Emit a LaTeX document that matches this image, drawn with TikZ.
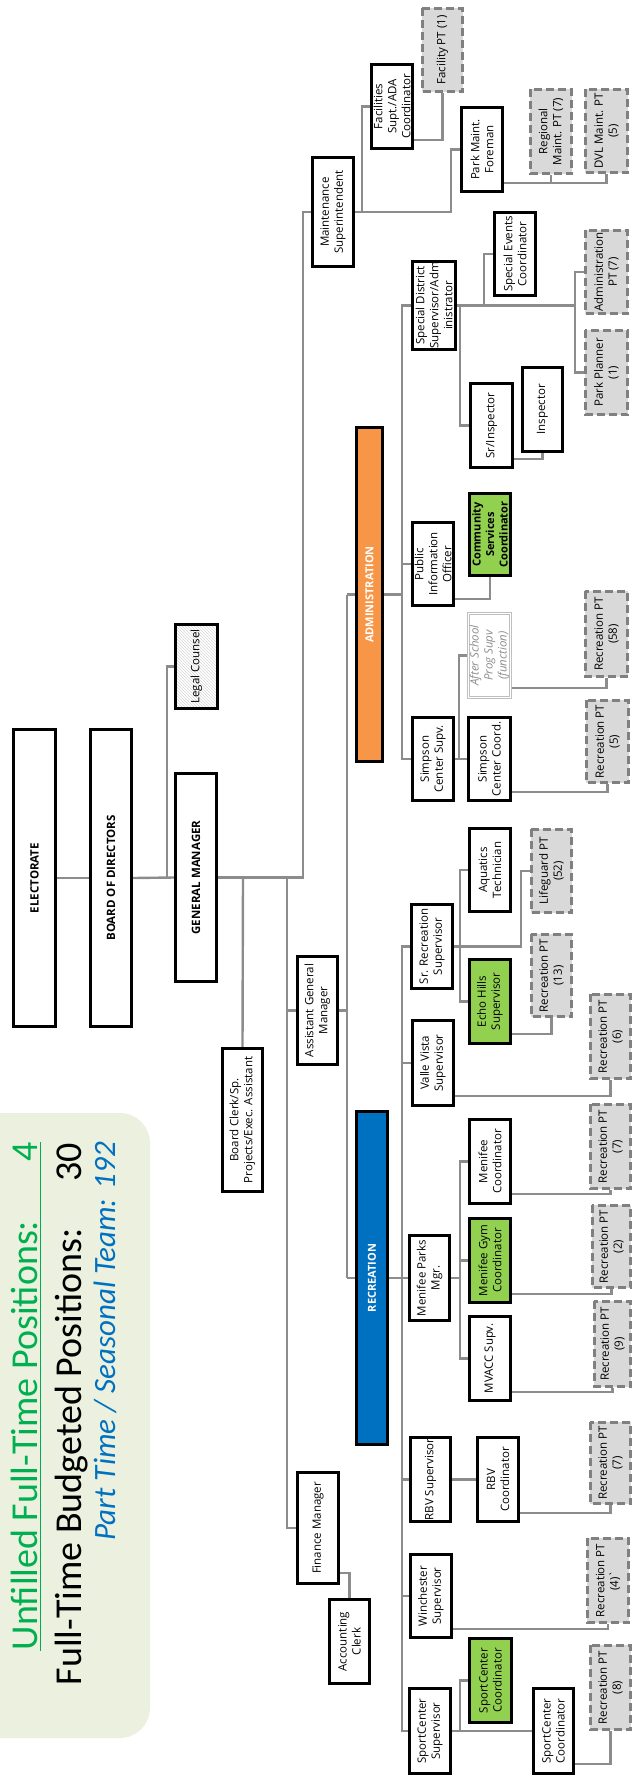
\documentclass[tikz,border=0pt]{standalone}
\usepackage{fontspec}
\setmainfont{Open Sans}
\newfontfamily\calfont{Carlito}
\usetikzlibrary{calc,patterns}
\pgfdeclarelayer{bg}
\pgfsetlayers{bg,main}
\definecolor{lnk}{RGB}{140,140,140}
\definecolor{ptfill}{RGB}{217,217,217}
\definecolor{ptdraw}{RGB}{128,128,128}
\definecolor{grnfill}{RGB}{146,208,80}
\definecolor{orng}{RGB}{247,150,70}
\definecolor{blu}{RGB}{0,112,192}
\definecolor{bggreen}{RGB}{235,241,222}
\definecolor{txtgreen}{RGB}{0,176,80}
\newcommand{\bx}[7]{\node[#6, minimum width={(#5-#3-2.5)*1pt}, minimum height={(#4-#2-2.5)*1pt}] (#1) at ({(#2+#4)/2},{(#3+#5)/2}) {#7};}
\newcommand{\rconn}[3]{\draw[conn] ($(#1.south west)+(0,-#3)$) -| (#2.west);}
\begin{document}
\begin{tikzpicture}[x=1pt,y=-1pt,
  box/.style={draw=black, line width=2.6pt, fill=white, rotate=90, inner sep=0.5pt, align=center, font=\fontsize{11.5}{14}\selectfont},
  bbox/.style={box, font=\bfseries\fontsize{11.5}{14}\selectfont},
  ptbox/.style={box, draw=ptdraw, fill=ptfill, dash pattern=on 8pt off 4pt},
  grn/.style={box, fill=grnfill},
  bar/.style={box, text=white, font=\bfseries\fontsize{11}{13}\selectfont},
  hatchbox/.style={box, pattern=north west lines, pattern color=black!16},
  ghost/.style={box, draw=black!25, line width=0.8pt, double=white, double distance=1.4pt, text=black!45, font=\itshape\fontsize{11.5}{14}\selectfont},
  conn/.style={draw=lnk, line width=2.4pt}]
\useasboundingbox (0,0) rectangle (633,1785);
\clip (0,0) rectangle (633,1785);

% legend box
\fill[bggreen, rounded corners=30pt] (-40,1113) rectangle (150,1738);
\node[rotate=90, anchor=base east, inner sep=0, text=txtgreen, font=\calfont\fontsize{38}{40}\selectfont] (l1) at (37,1142) {\makebox[508pt][s]{Unfilled Full-Time Positions:\hfill 4}};
\draw[txtgreen, line width=1.2pt] (40.5,1651) -- (40.5,1142);
\node[rotate=90, anchor=base east, inner sep=0, text=black, font=\calfont\fontsize{38}{40}\selectfont] (l2) at (81,1143) {\makebox[542pt][s]{Full-Time Budgeted Positions:\hfill 30}};
\node[rotate=90, anchor=base east, inner sep=0, text=blu, font=\calfont\itshape\fontsize{31}{33}\selectfont] (l3) at (115,1142) {Part Time / Seasonal Team: 192};

% top
\bx{ele}{12}{728}{57}{1028}{bbox}{ELECTORATE}
\bx{bod}{89}{728}{133}{1028}{bbox}{BOARD OF DIRECTORS}
\bx{gm}{174}{772}{218}{983}{bbox}{GENERAL MANAGER}
\bx{legal}{174}{623}{219}{710}{hatchbox}{Legal Counsel}
\bx{bc}{221}{1047}{264}{1193}{box}{Board Clerk/Sp.\\Projects/Exec. Assistant}
\bx{agm}{296}{955}{339}{1066}{box}{Assistant General\\Manager}
\bx{fm}{296}{1471}{340}{1585}{box}{Finance Manager}
\bx{ac}{328}{1598}{371}{1685}{box}{Accounting\\Clerk}

% maintenance
\bx{ms}{311}{156}{355}{268}{box}{Maintenance\\Superintendent}
\bx{fac}{370}{63}{414}{150}{box}{Facilities\\Supt./ADA\\Coordinator}
\bx{facpt}{421}{7}{464}{93}{ptbox}{Facility PT (1)}
\bx{pmf}{460}{106}{504}{193}{box}{Park Maint.\\Foreman}
\bx{regpt}{529}{88}{573}{175}{ptbox}{Regional\\Maint. PT (7)}
\bx{dvlpt}{584}{88}{629}{174}{ptbox}{DVL Maint. PT\\(5)}

% administration
\bx{admbar}{355}{426}{384}{763}{bar, fill=orng}{ADMINISTRATION}
\bx{sd}{411}{262}{457}{349}{box}{Special District\\Supervisor/Adm\\inistrator}
\bx{sec}{493}{211}{537}{297}{box}{Special Events\\Coordinator}
\bx{admpt}{584}{229}{629}{315}{ptbox}{Administration\\PT (7)}
\bx{ppl}{584}{329}{629}{416}{ptbox}{Park Planner\\(1)}
\bx{sri}{469}{382}{514}{469}{box}{Sr/Inspector}
\bx{insp}{521}{366}{564}{453}{box}{Inspector}
\bx{pio}{411}{521}{455}{607}{box}{Public\\Information\\Officer}
\bx{csc}{468}{492}{512}{577}{grn, font=\bfseries\fontsize{11}{13.5}\selectfont}{Community\\Services\\Coordinator}
\bx{scs}{411}{716}{455}{802}{box}{Simpson\\Center Supv.}
\bx{scc}{467}{716}{512}{802}{box}{Simpson\\Center Coord.}
\bx{asp}{467}{612}{512}{699}{ghost}{After School\\Prog Supv\\(function)}
\bx{rpt58}{584}{590}{629}{678}{ptbox}{Recreation PT\\(58)}
\bx{rpt5}{585}{699}{630}{784}{ptbox}{Recreation PT\\(5)}

% recreation
\bx{recbar}{355}{1110}{389}{1446}{bar, fill=blu}{RECREATION}
\bx{srs}{410}{903}{454}{990}{box}{Sr. Recreation\\Supervisor}
\bx{aqt}{468}{827}{512}{913}{box}{Aquatics\\Technician}
\bx{lg}{530}{828}{573}{914}{ptbox}{Lifeguard PT\\(52)}
\bx{ehs}{468}{958}{512}{1045}{grn}{Echo Hills\\Supervisor}
\bx{rpt13}{530}{933}{573}{1018}{ptbox}{Recreation PT\\(13)}
\bx{vvs}{411}{1019}{455}{1107}{box}{Valle Vista\\Supervisor}
\bx{rpt6}{589}{993}{632}{1080}{ptbox}{Recreation PT\\(6)}
\bx{mc}{468}{1118}{512}{1205}{box}{Menifee\\Coordinator}
\bx{rpt7a}{589}{1103}{632}{1190}{ptbox}{Recreation PT\\(7)}
\bx{mpm}{408}{1234}{451}{1322}{box}{Menifee Parks\\Mgr.}
\bx{mgc}{468}{1217}{512}{1304}{grn}{Menifee Gym\\Coordinator}
\bx{rpt2}{591}{1204}{632}{1289}{ptbox}{Recreation PT\\(2)}
\bx{mvacc}{468}{1315}{512}{1402}{box}{MVACC Supv.}
\bx{rpt9}{593}{1300}{632}{1388}{ptbox}{Recreation PT\\(9)}
\bx{rbvs}{409}{1436}{452}{1523}{box}{RBV Supervisor}
\bx{rbvc}{476}{1436}{520}{1523}{box}{RBV\\Coordinator}
\bx{rpt7b}{589}{1421}{632}{1505}{ptbox}{Recreation PT\\(7)}
\bx{win}{409}{1553}{453}{1639}{box}{Winchester\\Supervisor}
\bx{rpt4}{586}{1537}{630}{1624}{ptbox}{Recreation PT\\(4)\textasciigrave}
\bx{scsup}{408}{1687}{452}{1775}{box}{SportCenter\\Supervisor}
\bx{scgc}{468}{1637}{513}{1724}{grn}{SportCenter\\Coordinator}
\bx{scwc}{532}{1687}{575}{1775}{box}{SportCenter\\Coordinator}
\bx{rpt8}{589}{1644}{632}{1731}{ptbox}{Recreation PT\\(8)}

\begin{pgfonlayer}{bg}
% top
\draw[conn] (ele.south) -- (bod.north);
\draw[conn] (bod.south) -- (gm.north);
\draw[conn] (legal.north) -| (167,877.5);
\draw[conn] (gm.south) -- (303,877.5) |- (ms.north);
\draw[conn] (243,877.5) -- (bc.east);
\draw[conn] (287,877.5) |- (fm.north);
\draw[conn] (287,1010.5) -- (agm.north);
\draw[conn] (agm.south) -- (347,1010.5);
\draw[conn] (347,594.5) -- (347,1278);
\draw[conn] ($(fm.south west)+(0,-12)$) -| (ac.east);
% maintenance
\draw[conn] (ms.south) -- (451,212) |- (pmf.north);
\draw[conn] (362,212) |- (fac.north);
\rconn{fac}{facpt}{10}
\rconn{pmf}{dvlpt}{10}
\draw[conn] (regpt.west) -- ++(0,8);
% administration
\draw[conn] (347,594.5) -- (402,594.5);
\draw[conn] (sd.north) -- (402,305.5) -- (402,759) -- (scs.north);
\draw[conn] (pio.north) -- (402,564);
\draw[conn] (sd.south) -- (575,305.5);
\draw[conn] (484,305.5) |- (sec.north);
\draw[conn] (admpt.north) -| (575,305.5) |- (ppl.north);
\draw[conn] (460,305.5) |- (sri.north);
\rconn{sri}{insp}{10}
\rconn{pio}{csc}{8}
\draw[conn] (scs.south) -- (scc.north);
\draw[conn] (459,759) |- (asp.north);
\rconn{asp}{rpt58}{10}
\rconn{scc}{rpt5}{10}
% recreation
\draw[conn] (347,1278) -- (mpm.north);
\draw[conn] (srs.north) -- (402,946.5) -- (402,1731) -- (scsup.north);
\draw[conn] (vvs.north) -- (402,1063);
\draw[conn] (rbvs.north) -- (402,1479.5);
\draw[conn] (win.north) -- (402,1596);
\draw[conn] (srs.south) -- (521,946.5) |- (lg.north);
\draw[conn] (aqt.north) -- (460,870) -- (460,1001.5) -- (ehs.north);
\rconn{ehs}{rpt13}{11}
\rconn{vvs}{rpt6}{11}
\draw[conn] (mc.north) -- (460,1161.5) -- (460,1358.5) -- (mvacc.north);
\draw[conn] (mgc.north) -- (460,1260.5);
\draw[conn] (mpm.south) -- (460,1278);
\rconn{mc}{rpt7a}{11}
\rconn{mgc}{rpt2}{10}
\rconn{mvacc}{rpt9}{10}
\draw[conn] (rbvs.south) -- (rbvc.north);
\rconn{rbvc}{rpt7b}{10}
\rconn{win}{rpt4}{10}
\draw[conn] (scsup.south) -- (scwc.north);
\draw[conn] (scgc.north) -| (460,1731);
\rconn{scwc}{rpt8}{11}
\end{pgfonlayer}
\end{tikzpicture}
\end{document}
